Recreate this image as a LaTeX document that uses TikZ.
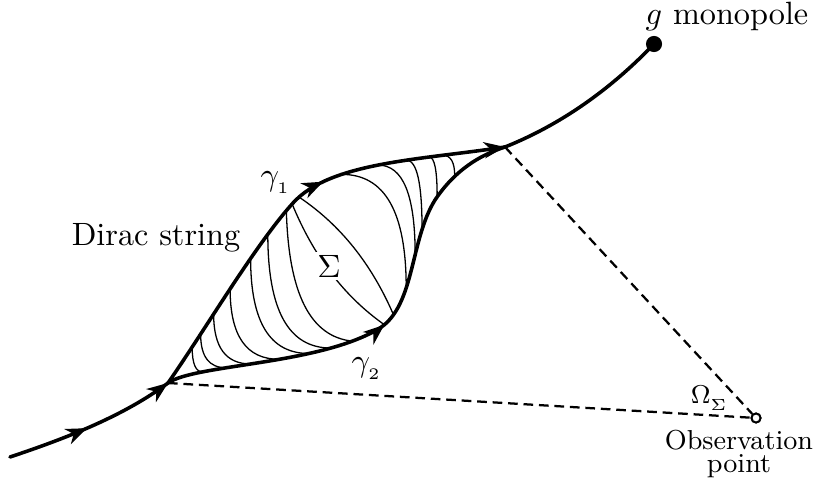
\documentclass[tikz,border=0pt]{standalone}
\usepackage{amsmath,amssymb}
\usepackage{tikz}
\usetikzlibrary{arrows.meta,calc,decorations.markings}

% the two sides of the loop, from A to B
\newcommand{\upperpath}{(A) .. controls (205,330) and (255,245) .. (293,203)
  .. controls (330,162) and (420,160) .. (B)}
\newcommand{\lowerpath}{(A) .. controls (195,364) and (320,365) .. (380,328)
  .. controls (415,305) and (410,240) .. (435,200)
  .. controls (455,170) and (480,155) .. (B)}

\begin{document}
\begin{tikzpicture}[x=0.31pt,y=-0.31pt,
      string/.style={line width=1.1pt,line cap=round},
      hatch/.style={line width=0.4pt},
      sight/.style={line width=0.7pt,dash pattern=on 3pt off 1.8pt},
      midarrow/.style={postaction={decorate,decoration={markings,
          mark=at position #1 with {\arrow{Stealth[length=6.5pt,width=5pt,inset=2pt]}}}}},
      dot/.style={circle,fill=black,inner sep=0pt,minimum size=5pt},
      obs/.style={circle,draw=black,fill=white,line width=0.6pt,inner sep=0pt,minimum size=2.8pt},
      small/.style={font=\fontsize{8.5pt}{7pt}\selectfont}]
    \useasboundingbox (0,0) rectangle (815,481);
    \coordinate (P0) at (10,457);
    \coordinate (A) at (168,383);
    \coordinate (B) at (505,147);
    \node[dot] (mono) at (654,44) {};
    \node[obs] (O) at (756,418) {};
    % surface Sigma: position on upper side / on lower side / bulge
    \foreach \su/\sl/\w [count=\k] in {0.098/0.081/0, 0.133/0.134/0, 0.187/0.189/0,
        0.255/0.253/0, 0.338/0.32/0, 0.405/0.37/0, 0.473/0.42/0.05, 0.493/0.50/0.35,
        0.515/0.53/0.65, 0.625/0.596/1, 0.71/0.672/1, 0.775/0.73/1, 0.827/0.81/1,
        0.858/0.87/1}{
      \path[decorate,decoration={markings,mark=at position \su with {\coordinate (u\k);}}] \upperpath;
      \path[decorate,decoration={markings,mark=at position \sl with {\coordinate (l\k);}}] \lowerpath;
      \coordinate (ca\k) at (u\k |- l\k);
      \coordinate (cb\k) at (l\k |- u\k);
      \coordinate (c\k) at ($(ca\k)!\w!(cb\k)$);
      \draw[hatch] (u\k) .. controls ($(u\k)!0.67!(c\k)$) and ($(l\k)!0.67!(c\k)$) .. (l\k);
    }
    \node[fill=white,inner sep=1pt] (sigma) at (329,266) {$\Sigma$};
    % the string
    \draw[string,midarrow=0.47,midarrow=1] (P0) .. controls (70,437) and (125,415) .. (A);
    \draw[string,midarrow=0.58,midarrow=1] \upperpath;
    \draw[string,midarrow=0.5] \lowerpath;
    \draw[string] (B) .. controls (560,125) and (610,90) .. (mono.center);
    \draw[sight] (A) -- (O);
    \draw[sight] (B) -- (O);
    \node[obs] at (O) {};
    % labels
    \node[anchor=base] (mlabel) at (727,25) {$g$ monopole};
    \node[anchor=base] (dirac) at (156,245) {Dirac string};
    \node (g1) at (276,183) {$\gamma_{_1}$};
    \node (g2) at (367,369) {$\gamma_{_2}$};
    \node[small,anchor=base] (omega) at (710,403) {$\Omega_{_\Sigma}$};
    \node[small,anchor=north,align=center,inner sep=0pt] (olabel) at (739,430)
      {Observation\\point};
  \end{tikzpicture}
\end{document}
